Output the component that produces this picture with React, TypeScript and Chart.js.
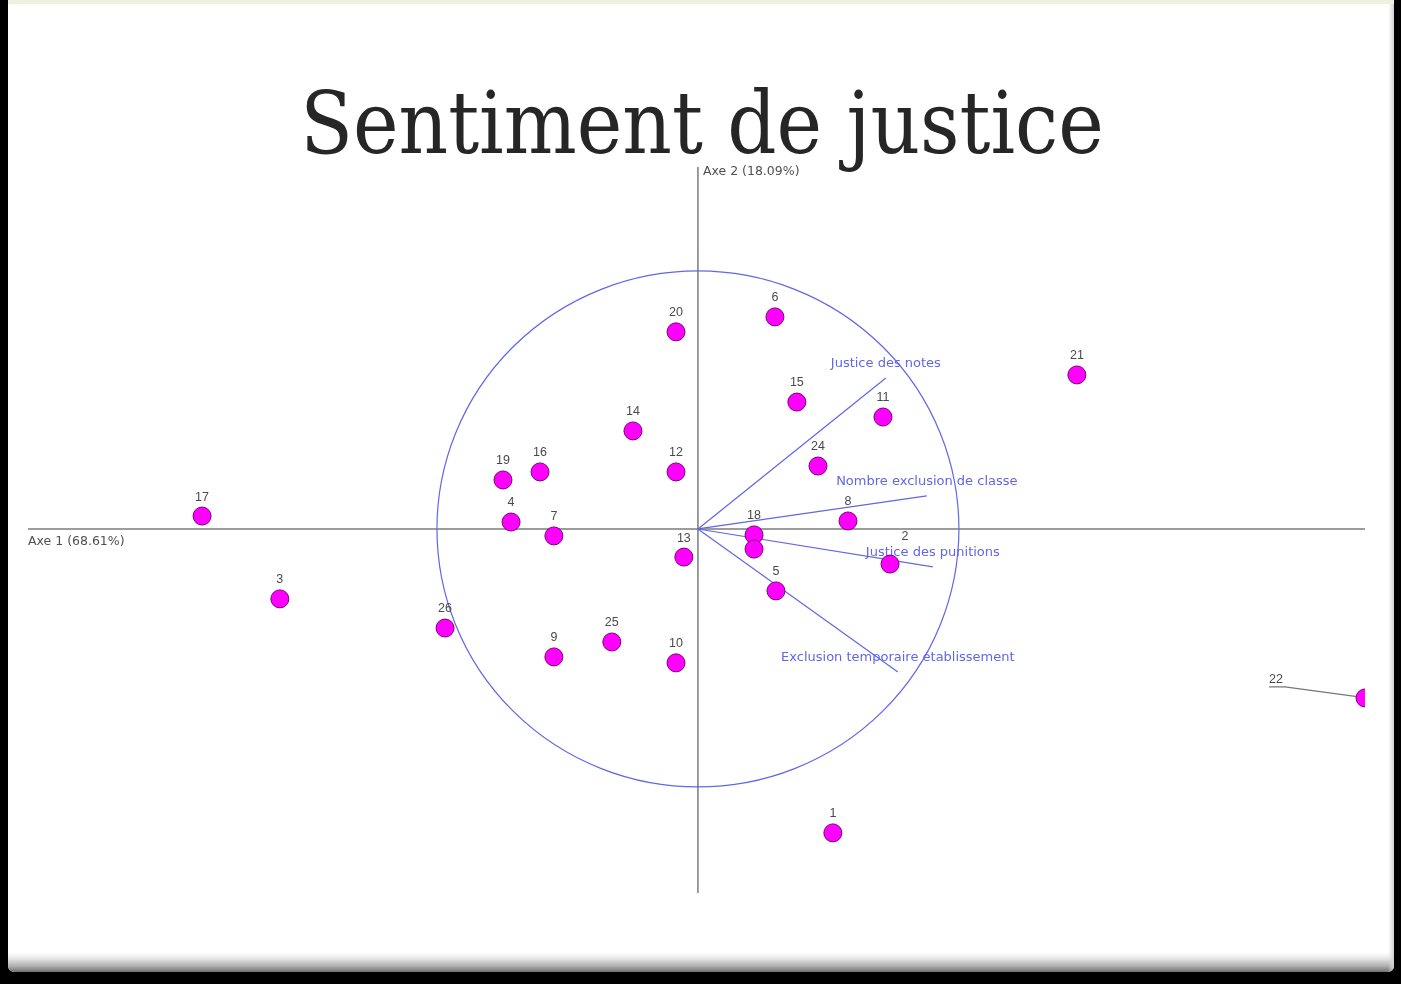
import React, { useEffect, useRef } from "react";
import { Chart, registerables } from "chart.js";

Chart.register(...registerables);

// ---------- data ----------
const TITLE = "Sentiment de justice";
const AXIS1_LABEL = "Axe 1 (68.61%)";
const AXIS2_LABEL = "Axe 2 (18.09%)";

const individualLabels = [
  "1", "2", "3", "4", "5", "6", "7", "8", "9", "10", "11", "12", "13",
  "14", "15", "16", "17", "18", "19", "20", "21", "22", "23", "24", "25", "26",
];
const individualAxe1 = [
  0.517, 0.736, -1.602, -0.716, 0.299, 0.295, -0.552, 0.575, -0.552, -0.084, 0.709, -0.084, -0.054,
  -0.249, 0.379, -0.605, -1.9, 0.215, -0.747, -0.084, 1.452, 2.556, 0.215, 0.46, -0.33, -0.969,
];
const individualAxe2 = [
  -1.178, -0.136, -0.271, 0.027, -0.24, 0.822, -0.027, 0.031, -0.496, -0.519, 0.434, 0.221, -0.109,
  0.38, 0.492, 0.221, 0.05, -0.023, 0.19, 0.764, 0.597, -0.655, -0.078, 0.244, -0.438, -0.384,
];

const variableNames = [
  "Justice des notes",
  "Nombre exclusion de classe",
  "Justice des punitions",
  "Exclusion temporaire établissement",
];
const variableAxe1 = [0.72, 0.877, 0.9, 0.766];
const variableAxe2 = [0.585, 0.128, -0.147, -0.554];

const axe1Range = [-2.567, 2.556];
const axe2Range = [-1.411, 1.403];

// ---------- layout of a few label placements (not data) ----------
const LEADER_LABEL = "22"; // point on the border, label moved left with a leader line
const SHIFTED_LABELS: Record<string, [number, number]> = {
  "2": [15, -28],
  "23": [0, -14],
};

// ---------- styles ----------
const POINT_FILL = "#ff00ff";
const POINT_BORDER = "#7a007a";
const VECTOR_COLOR = "#6266e8";
const AXIS_COLOR = "#7c7c7c";
const LABEL_COLOR = "#4a4a4a";

const slidePlugin = {
  id: "slideFrame",
  beforeDraw(chart: any) {
    const { ctx, width, height } = chart;
    ctx.save();
    ctx.fillStyle = "#000";
    ctx.fillRect(0, 0, width, height);

    // slide sheet
    const x0 = 8, y0 = 0, x1 = 1394, y1 = 972, r = 7;
    ctx.beginPath();
    ctx.moveTo(x0, y0);
    ctx.lineTo(x1, y0);
    ctx.lineTo(x1, y1 - r);
    ctx.quadraticCurveTo(x1, y1, x1 - r, y1);
    ctx.lineTo(x0 + r, y1);
    ctx.quadraticCurveTo(x0, y1, x0, y1 - r);
    ctx.closePath();
    ctx.fillStyle = "#ffffff";
    ctx.fill();
    ctx.save();
    ctx.clip();
    const g = ctx.createLinearGradient(0, 952, 0, 972);
    g.addColorStop(0, "rgba(235,235,235,0)");
    g.addColorStop(0.35, "#e2e2e2");
    g.addColorStop(0.7, "#b0b0b0");
    g.addColorStop(1, "#707070");
    ctx.fillStyle = g;
    ctx.fillRect(x0, 952, x1 - x0, 22);
    const gr = ctx.createLinearGradient(1388, 0, 1394, 0);
    gr.addColorStop(0, "rgba(220,220,220,0)");
    gr.addColorStop(1, "#cfcfcf");
    ctx.fillStyle = gr;
    ctx.fillRect(1388, 0, 6, y1);
    ctx.restore();
    ctx.fillStyle = "#eef2dc";
    ctx.fillRect(x0, 0, x1 - x0, 4);

    // title, sized to span the same width as in the slide
    const family = "'DejaVu Serif Condensed', 'DejaVu Serif', serif";
    ctx.font = `100px ${family}`;
    const w = ctx.measureText(TITLE).width;
    const size = (100 * 804) / w;
    ctx.font = `${size.toFixed(1)}px ${family}`;
    ctx.fillStyle = "#262626";
    ctx.textAlign = "center";
    ctx.textBaseline = "alphabetic";
    ctx.fillText(TITLE, 702, 153);
    ctx.restore();
  },
  beforeDatasetsDraw(chart: any) {
    const { ctx, chartArea, scales } = chart;
    const xs = scales.x;
    const ys = scales.y;
    const ox = xs.getPixelForValue(0);
    const oy = ys.getPixelForValue(0);
    ctx.save();

    // axes
    ctx.strokeStyle = AXIS_COLOR;
    ctx.lineWidth = 1.5;
    ctx.beginPath();
    ctx.moveTo(chartArea.left, oy);
    ctx.lineTo(chartArea.right, oy);
    ctx.moveTo(ox, chartArea.top);
    ctx.lineTo(ox, chartArea.bottom);
    ctx.stroke();

    ctx.fillStyle = "#505050";
    ctx.font = "12.5px 'DejaVu Sans', sans-serif";
    ctx.textAlign = "left";
    ctx.textBaseline = "middle";
    ctx.fillText(AXIS1_LABEL, chartArea.left, oy + 13);
    ctx.fillText(AXIS2_LABEL, ox + 5, chartArea.top + 5);

    // correlation circle (radius 1 on both axes)
    const rx = xs.getPixelForValue(1) - ox;
    const ry = oy - ys.getPixelForValue(1);
    ctx.strokeStyle = VECTOR_COLOR;
    ctx.lineWidth = 1.2;
    ctx.beginPath();
    ctx.ellipse(ox, oy, rx, ry, 0, 0, Math.PI * 2);
    ctx.stroke();

    // variable labels
    ctx.fillStyle = VECTOR_COLOR;
    ctx.font = "13px 'DejaVu Sans', sans-serif";
    ctx.textAlign = "center";
    variableNames.forEach((name, i) => {
      const px = xs.getPixelForValue(variableAxe1[i]);
      const py = ys.getPixelForValue(variableAxe2[i]);
      ctx.fillText(name, px, py - 14);
    });

    // individual labels
    ctx.fillStyle = LABEL_COLOR;
    ctx.font = "12.5px 'Liberation Sans', Arial, sans-serif";
    individualLabels.forEach((lab, i) => {
      const px = xs.getPixelForValue(individualAxe1[i]);
      const py = ys.getPixelForValue(individualAxe2[i]);
      if (lab === LEADER_LABEL) {
        const lx = px - 89;
        const ly = py - 18;
        ctx.fillText(lab, lx, ly);
        const w = ctx.measureText(lab).width;
        ctx.strokeStyle = "#777";
        ctx.lineWidth = 1.2;
        ctx.beginPath();
        ctx.moveTo(lx - w / 2, ly + 7);
        ctx.lineTo(lx + w / 2 + 2, ly + 7);
        ctx.lineTo(px - 6, py - 1);
        ctx.stroke();
      } else if (SHIFTED_LABELS[lab]) {
        const [dx, dy] = SHIFTED_LABELS[lab];
        ctx.fillText(lab, px + dx, py + dy);
      } else {
        ctx.fillText(lab, px, py - 19);
      }
    });
    ctx.restore();
  },
};

export default function App() {
  const canvasRef = useRef<HTMLCanvasElement | null>(null);

  useEffect(() => {
    document.body.style.margin = "0";
    const canvas = canvasRef.current;
    if (!canvas) return;

    const vectorDatasets = variableNames.map((name, i) => ({
      type: "scatter" as const,
      label: name,
      data: [
        { x: 0, y: 0 },
        { x: variableAxe1[i], y: variableAxe2[i] },
      ],
      showLine: true,
      borderColor: VECTOR_COLOR,
      borderWidth: 1.2,
      pointRadius: 0,
      clip: 0,
    }));

    const chart = new Chart(canvas, {
      type: "scatter",
      data: {
        datasets: [
          {
            label: "Individus",
            data: individualAxe1.map((x, i) => ({ x, y: individualAxe2[i] })),
            backgroundColor: POINT_FILL,
            borderColor: POINT_BORDER,
            borderWidth: 1,
            pointRadius: 9,
            clip: 0,
          },
          ...vectorDatasets,
        ],
      },
      options: {
        animation: false,
        responsive: true,
        maintainAspectRatio: false,
        layout: { padding: { left: 28, right: 36, top: 167, bottom: 91 } },
        plugins: {
          legend: { display: false },
          tooltip: { enabled: false },
          title: { display: false },
        },
        scales: {
          x: { type: "linear", min: axe1Range[0], max: axe1Range[1], display: false },
          y: { type: "linear", min: axe2Range[0], max: axe2Range[1], display: false },
        },
      },
      plugins: [slidePlugin],
    });
    return () => chart.destroy();
  }, []);

  return (
    <div style={{ position: "relative", width: 1401, height: 984, overflow: "hidden" }}>
      <canvas ref={canvasRef} style={{ display: "block" }} />
    </div>
  );
}
